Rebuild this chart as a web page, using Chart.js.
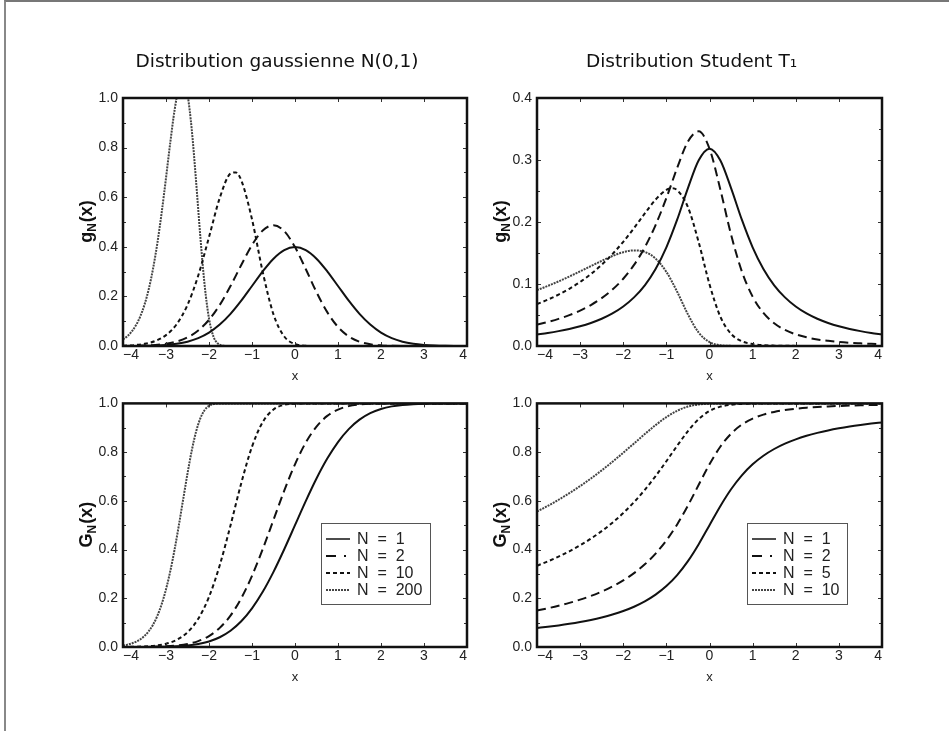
<!DOCTYPE html>
<html>
<head>
<meta charset="utf-8">
<script src="https://cdn.jsdelivr.net/npm/chart.js@4"></script>
<style>
  html, body { margin: 0; padding: 0; background: #fff; }
  #page { position: relative; width: 949px; height: 731px; overflow: hidden; }
  #edge { position: absolute; left: 4px; top: 0; right: -4px; bottom: -4px; border-left: 2px solid #888; border-top: 2px solid #777; }
  canvas { position: absolute; }
</style>
</head>
<body>
<div id="page">
  <div id="edge"></div>
  <canvas id="gaussPdf" width="474" height="390" style="left:40px;top:0px"></canvas>
  <canvas id="studentPdf" width="426" height="390" style="left:470px;top:0px"></canvas>
  <canvas id="gaussCdf" width="474" height="300" style="left:40px;top:390px"></canvas>
  <canvas id="studentCdf" width="426" height="300" style="left:470px;top:390px"></canvas>
</div>
<script>
// x positions
const xGrid = [-4, -3.75, -3.5, -3.25, -3, -2.75, -2.5, -2.25, -2, -1.75, -1.5, -1.25, -1, -0.75, -0.5, -0.25, 0,
  0.25, 0.5, 0.75, 1, 1.25, 1.5, 1.75, 2, 2.25, 2.5, 2.75, 3, 3.25, 3.5, 3.75, 4];
const xGaussN10 = [-4, -3.75, -3.5, -3.25, -3, -2.75, -2.5, -2.25, -2, -1.75, -1.5, -1.375, -1.25, -1, -0.75, -0.5, -0.25, 0,
  0.25, 0.5, 0.75, 1, 1.25, 1.5, 1.75, 2, 2.25, 2.5, 2.75, 3, 3.25, 3.5, 3.75, 4];
const xGaussN200 = [-4, -3.9, -3.8, -3.7, -3.6, -3.5, -3.4, -3.3, -3.2, -3.1, -3, -2.9, -2.8, -2.7, -2.6, -2.5,
  -2.4, -2.3, -2.2, -2.1, -2, -1.9, -1.8, -1.7, -1.6, -1.5, -1, 0, 1, 2, 3, 4];
const xStudentN5 = [-4, -3.75, -3.5, -3.25, -3, -2.75, -2.5, -2.25, -2, -1.75, -1.5, -1.25, -1, -0.875, -0.75, -0.5, -0.25, 0,
  0.25, 0.5, 0.75, 1, 1.25, 1.5, 1.75, 2, 2.25, 2.5, 2.75, 3, 3.25, 3.5, 3.75, 4];

// gaussian densities g_N(x)
const gPdfN1 = [0.0001, 0.0004, 0.0009, 0.002, 0.0044, 0.0091, 0.0175, 0.0317, 0.054, 0.0863, 0.1295, 0.1826, 0.242, 0.3011, 0.3521, 0.3867, 0.3989,
  0.3867, 0.3521, 0.3011, 0.242, 0.1826, 0.1295, 0.0863, 0.054, 0.0317, 0.0175, 0.0091, 0.0044, 0.002, 0.0009, 0.0004, 0.0001];
const gPdfN2 = [0.0003, 0.0007, 0.0017, 0.004, 0.0088, 0.0181, 0.0348, 0.0626, 0.1055, 0.1657, 0.2417, 0.3266, 0.4072, 0.4657, 0.487, 0.463, 0.3989,
  0.3104, 0.2172, 0.1365, 0.0768, 0.0386, 0.0173, 0.0069, 0.0025, 0.0008, 0.0002, 0, 0, 0, 0, 0, 0];
const gPdfN10 = [0.0013, 0.0035, 0.0087, 0.0202, 0.0438, 0.0885, 0.1657, 0.2841, 0.439, 0.597, 0.6951, 0.6998, 0.6685, 0.511, 0.298, 0.1273, 0.0382, 0.0078,
  0.001, 0.0001, 0, 0, 0, 0, 0, 0, 0, 0, 0, 0, 0, 0, 0, 0];
const gPdfN200 = [0.0266, 0.0394, 0.0576, 0.0832, 0.1186, 0.1667, 0.2304, 0.313, 0.4159, 0.5389, 0.6775, 0.8212, 0.9515, 1.0443, 1.072, 1.0146,
  0.8705, 0.6635, 0.4377, 0.2436, 0.1108, 0.0398, 0.0109, 0.0022, 0.0003, 0, 0, 0, 0, 0, 0, 0];

// gaussian distribution functions G_N(x)
const gCdfN1 = [0, 0.0001, 0.0002, 0.0006, 0.0013, 0.003, 0.0062, 0.0122, 0.0228, 0.0401, 0.0668, 0.1056, 0.1587, 0.2266, 0.3085, 0.4013, 0.5,
  0.5987, 0.6915, 0.7734, 0.8413, 0.8944, 0.9332, 0.9599, 0.9772, 0.9878, 0.9938, 0.997, 0.9987, 0.9994, 0.9998, 0.9999, 1];
const gCdfN2 = [0.0001, 0.0002, 0.0005, 0.0012, 0.0027, 0.006, 0.0124, 0.0243, 0.045, 0.0786, 0.1291, 0.2001, 0.2922, 0.4019, 0.5218, 0.6416, 0.75,
  0.839, 0.9048, 0.9487, 0.9748, 0.9888, 0.9955, 0.9984, 0.9995, 0.9999, 1, 1, 1, 1, 1, 1, 1];
const gCdfN10 = [0.0003, 0.0009, 0.0023, 0.0058, 0.0134, 0.0294, 0.0604, 0.1157, 0.2055, 0.3357, 0.4991, 0.6726, 0.8223, 0.9234, 0.975, 0.9941, 0.999,
  1, 1, 1, 1, 1, 1, 1, 1, 1, 1, 1, 1, 1, 1, 1, 1];
const gCdfN200 = [0.0063, 0.0096, 0.0144, 0.0214, 0.0313, 0.0455, 0.0652, 0.0921, 0.1284, 0.176, 0.2368, 0.3117, 0.4004, 0.5007, 0.6072, 0.712,
  0.8072, 0.8843, 0.9392, 0.9728, 0.99, 0.997, 0.9993, 0.9999, 1, 1, 1, 1, 1, 1, 1, 1];

// student T1 densities
const tPdfN1 = [0.0187, 0.0211, 0.024, 0.0275, 0.0318, 0.0372, 0.0439, 0.0525, 0.0637, 0.0784, 0.0979, 0.1242, 0.1592, 0.2037, 0.2546, 0.2996, 0.3183,
  0.2996, 0.2546, 0.2037, 0.1592, 0.1242, 0.0979, 0.0784, 0.0637, 0.0525, 0.0439, 0.0372, 0.0318, 0.0275, 0.024, 0.0211, 0.0187];
const tPdfN2 = [0.0345, 0.0388, 0.0438, 0.0498, 0.0571, 0.0661, 0.0772, 0.091, 0.1085, 0.1308, 0.1592, 0.1951, 0.2387, 0.2872, 0.3298, 0.3463, 0.3183,
  0.2529, 0.1795, 0.1203, 0.0796, 0.0534, 0.0367, 0.0259, 0.0188, 0.014, 0.0106, 0.0083, 0.0065, 0.0052, 0.0043, 0.0035, 0.0029];
const tPdfN5 = [0.0676, 0.0747, 0.0829, 0.0923, 0.1033, 0.1161, 0.131, 0.1482, 0.1681, 0.1902, 0.2138, 0.2361, 0.2518, 0.2543, 0.2514, 0.2239, 0.1672, 0.0995,
  0.0475, 0.0196, 0.0077, 0.0031, 0.0013, 0.0006, 0.0003, 0.0002, 0.0001, 0.0001, 0, 0, 0, 0, 0, 0];
const tPdfN10 = [0.0901, 0.0969, 0.1042, 0.1121, 0.1204, 0.1289, 0.1373, 0.1451, 0.1513, 0.1542, 0.1517, 0.141, 0.1195, 0.0875, 0.051, 0.0216, 0.0062,
  0.0013, 0.0002, 0, 0, 0, 0, 0, 0, 0, 0, 0, 0, 0, 0, 0, 0];

// student T1 distribution functions
const tCdfN1 = [0.078, 0.083, 0.0886, 0.095, 0.1024, 0.111, 0.1211, 0.1331, 0.1476, 0.1653, 0.1872, 0.2148, 0.25, 0.2952, 0.3524, 0.422, 0.5,
  0.578, 0.6476, 0.7048, 0.75, 0.7852, 0.8128, 0.8348, 0.8524, 0.8669, 0.8789, 0.889, 0.8976, 0.905, 0.9114, 0.9171, 0.922];
const tCdfN2 = [0.1499, 0.159, 0.1693, 0.181, 0.1944, 0.2097, 0.2276, 0.2485, 0.2734, 0.3032, 0.3393, 0.3834, 0.4375, 0.5032, 0.5806, 0.6659, 0.75,
  0.8219, 0.8758, 0.9129, 0.9375, 0.9539, 0.965, 0.9727, 0.9782, 0.9823, 0.9853, 0.9877, 0.9895, 0.991, 0.9922, 0.9931, 0.9939];
const tCdfN5 = [0.3337, 0.3514, 0.3711, 0.3929, 0.4174, 0.4448, 0.4756, 0.5105, 0.5499, 0.5947, 0.6452, 0.7015, 0.7627, 0.826, 0.8861, 0.9355, 0.9688,
  0.9866, 0.9946, 0.9978, 0.999, 0.9995, 0.9998, 0.9999, 0.9999, 1, 1, 1, 1, 1, 1, 1, 1];
const tCdfN10 = [0.556, 0.5793, 0.6045, 0.6315, 0.6606, 0.6917, 0.725, 0.7603, 0.7974, 0.8357, 0.8741, 0.9109, 0.9437, 0.9697, 0.987, 0.9958, 0.999,
  0.9998, 1, 1, 1, 1, 1, 1, 1, 1, 1, 1, 1, 1, 1, 1, 1];

const gaussLabels = ["N  =  1", "N  =  2", "N  =  10", "N  =  200"];
const studentLabels = ["N  =  1", "N  =  2", "N  =  5", "N  =  10"];

const SANS = '"Liberation Sans", Arial, sans-serif';

// line look for the 4 curves (solid, long dash, short dash, grey dotted)
const lineStyles = [
  { color: "#111", dash: [], width: 2 },
  { color: "#111", dash: [9, 5], width: 2 },
  { color: "#111", dash: [4, 3], width: 2 },
  { color: "#444", dash: [2, 1], width: 2 },
];

function series(xs, ys, label, i) {
  const s = lineStyles[i];
  return {
    label: label,
    data: xs.map((x, k) => ({ x: x, y: ys[k] })),
    borderColor: s.color,
    borderDash: s.dash,
    borderWidth: s.width,
    pointRadius: 0,
    fill: false,
    cubicInterpolationMode: "monotone",
  };
}

// frame + small inward ticks on all four sides
const frameTicks = {
  id: "frameTicks",
  afterDatasetsDraw(chart, args, opts) {
    const { ctx, chartArea: a, scales } = chart;
    const x = scales.x, y = scales.y;
    ctx.save();
    ctx.strokeStyle = "#333";
    ctx.lineWidth = 1;
    ctx.beginPath();
    x.ticks.forEach((t) => {
      const px = Math.round(x.getPixelForValue(t.value)) + 0.5;
      ctx.moveTo(px, a.bottom); ctx.lineTo(px, a.bottom - 4);
      ctx.moveTo(px, a.top); ctx.lineTo(px, a.top + 4);
    });
    const n = Math.round((y.max - y.min) / opts.minor);
    for (let k = 0; k <= n; k++) {
      const py = Math.round(y.getPixelForValue(y.min + k * opts.minor)) + 0.5;
      const len = k % 2 === 0 ? 4 : 3;
      ctx.moveTo(a.left, py); ctx.lineTo(a.left + len, py);
      ctx.moveTo(a.right, py); ctx.lineTo(a.right - len, py);
    }
    ctx.stroke();
    ctx.strokeStyle = "#111";
    ctx.lineWidth = 2.5;
    ctx.strokeRect(a.left, a.top, a.width, a.height);
    ctx.restore();
  },
};

// panel title above the plot, centred over plot + y title
const panelTitle = {
  id: "panelTitle",
  afterDraw(chart, args, o) {
    if (!o.text) return;
    const { ctx, chartArea: a } = chart;
    ctx.save();
    ctx.font = '18.5px "DejaVu Sans", sans-serif';
    ctx.fillStyle = "#111";
    ctx.textAlign = "center";
    ctx.textBaseline = "middle";
    ctx.fillText(o.text, (a.left - 36 + a.right) / 2, a.top - 36);
    ctx.restore();
  },
};

// rotated y title with a subscript N
const yTitle = {
  id: "yTitle",
  afterDraw(chart, args, o) {
    const { ctx, chartArea: a } = chart;
    ctx.save();
    ctx.translate(a.left - 37, (a.top + a.bottom) / 2);
    ctx.rotate(-Math.PI / 2);
    ctx.fillStyle = "#111";
    ctx.textBaseline = "alphabetic";
    const big = "bold 18px " + SANS, small = "bold 12px " + SANS;
    ctx.font = big;
    const w1 = ctx.measureText(o.main).width, w3 = ctx.measureText("(x)").width;
    ctx.font = small;
    const w2 = ctx.measureText("N").width;
    let cx = -(w1 + w2 + w3) / 2;
    ctx.font = big; ctx.fillText(o.main, cx, 6); cx += w1;
    ctx.font = small; ctx.fillText("N", cx, 10); cx += w2 + 1;
    ctx.font = big; ctx.fillText("(x)", cx, 6);
    ctx.restore();
  },
};

// boxed legend inside the plot
const boxLegend = {
  id: "boxLegend",
  afterDraw(chart, args, o) {
    if (!o.show) return;
    const { ctx, chartArea: a } = chart;
    const left = Math.round(a.left + o.fx * a.width), top = Math.round(a.top + o.fy * a.height);
    ctx.save();
    ctx.font = "16px " + SANS;
    const sets = chart.data.datasets;
    const tw = Math.max(...sets.map((d) => ctx.measureText(d.label).width));
    const w = Math.round(36 + tw + 8), h = 81;
    ctx.fillStyle = "#fff";
    ctx.fillRect(left, top, w, h);
    ctx.strokeStyle = "#555";
    ctx.lineWidth = 1;
    ctx.strokeRect(left + 0.5, top + 0.5, w, h);
    sets.forEach((d, i) => {
      const cy = top + 16 + i * 17;
      ctx.beginPath();
      ctx.setLineDash(i === 1 ? [10, 8, 2, 8] : d.borderDash);
      ctx.strokeStyle = d.borderColor;
      ctx.lineWidth = i === 0 ? 1.5 : d.borderWidth;
      ctx.moveTo(left + 5, cy);
      ctx.lineTo(left + 29, cy);
      ctx.stroke();
      ctx.setLineDash([]);
      ctx.fillStyle = "#222";
      ctx.textBaseline = "middle";
      ctx.fillText(d.label, left + 36, cy + 1);
    });
    ctx.restore();
  },
};

function fmtX(v) {
  return v < 0 ? "\u2212" + Math.abs(v) : String(v);
}

function makeChart(id, datasets, opt) {
  return new Chart(document.getElementById(id), {
    type: "line",
    data: { datasets: datasets },
    plugins: [frameTicks, panelTitle, yTitle, boxLegend],
    options: {
      responsive: false,
      animation: false,
      layout: { padding: opt.padding },
      plugins: {
        legend: { display: false },
        tooltip: { enabled: false },
        title: { display: false },
        panelTitle: { text: opt.title || "" },
        frameTicks: { minor: opt.yStep / 2 },
        yTitle: { main: opt.yMain },
        boxLegend: { show: !!opt.legend, fx: opt.legend ? opt.legend[0] : 0, fy: opt.legend ? opt.legend[1] : 0 },
      },
      scales: {
        x: {
          type: "linear",
          min: -4,
          max: 4,
          grid: { display: false, drawTicks: false },
          border: { display: false },
          ticks: {
            stepSize: 1,
            align: "inner",
            padding: 1,
            maxRotation: 0,
            color: "#222",
            font: { family: SANS, size: 14 },
            callback: (v) => fmtX(v),
          },
          title: { display: true, text: "x", color: "#222", font: { family: SANS, size: 13 }, padding: 0 },
          afterFit: (s) => { s.height = 38; },
        },
        y: {
          min: 0,
          max: opt.yMax,
          grid: { display: false, drawTicks: false },
          border: { display: false },
          ticks: {
            stepSize: opt.yStep,
            padding: 5,
            color: "#222",
            font: { family: SANS, size: 14 },
            callback: (v) => v.toFixed(1),
          },
          afterFit: (s) => { s.width = opt.yWidth; },
        },
      },
    },
  });
}

makeChart("gaussPdf", [
  series(xGrid, gPdfN1, gaussLabels[0], 0),
  series(xGrid, gPdfN2, gaussLabels[1], 1),
  series(xGaussN10, gPdfN10, gaussLabels[2], 2),
  series(xGaussN200, gPdfN200, gaussLabels[3], 3),
], { title: "Distribution gaussienne N(0,1)", yMain: "g", yMax: 1, yStep: 0.2, yWidth: 83,
     padding: { top: 98, right: 47, bottom: 6, left: 0 } });

makeChart("studentPdf", [
  series(xGrid, tPdfN1, studentLabels[0], 0),
  series(xGrid, tPdfN2, studentLabels[1], 1),
  series(xStudentN5, tPdfN5, studentLabels[2], 2),
  series(xGrid, tPdfN10, studentLabels[3], 3),
], { title: "Distribution Student T\u2081", yMain: "g", yMax: 0.4, yStep: 0.1, yWidth: 67,
     padding: { top: 98, right: 14, bottom: 6, left: 0 } });

makeChart("gaussCdf", [
  series(xGrid, gCdfN1, gaussLabels[0], 0),
  series(xGrid, gCdfN2, gaussLabels[1], 1),
  series(xGrid, gCdfN10, gaussLabels[2], 2),
  series(xGaussN200, gCdfN200, gaussLabels[3], 3),
], { yMain: "G", yMax: 1, yStep: 0.2, yWidth: 83, legend: [0.577, 0.492],
     padding: { top: 9, right: 47, bottom: 5, left: 0 } });

makeChart("studentCdf", [
  series(xGrid, tCdfN1, studentLabels[0], 0),
  series(xGrid, tCdfN2, studentLabels[1], 1),
  series(xGrid, tCdfN5, studentLabels[2], 2),
  series(xGrid, tCdfN10, studentLabels[3], 3),
], { yMain: "G", yMax: 1, yStep: 0.2, yWidth: 67, legend: [0.609, 0.492],
     padding: { top: 9, right: 14, bottom: 5, left: 0 } });
</script>
</body>
</html>
